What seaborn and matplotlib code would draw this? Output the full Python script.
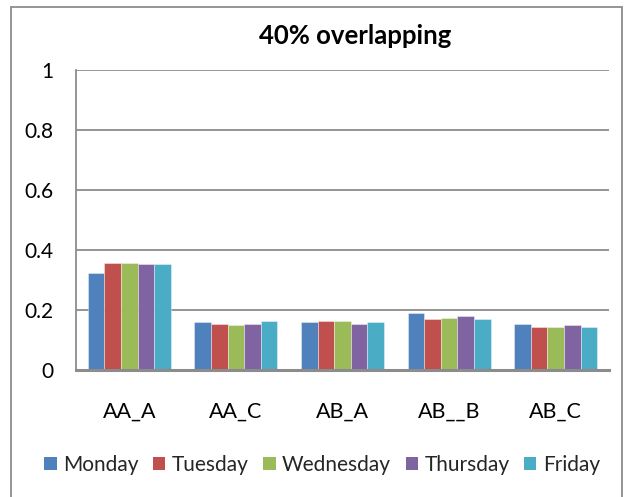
import matplotlib
matplotlib.use("Agg")
import matplotlib.pyplot as plt
from matplotlib.patches import Rectangle, Patch
import seaborn as sns
import pandas as pd

# Data
categories = ["AA_A", "AA_C", "AB_A", "AB__B", "AB_C"]
days = ["Monday", "Tuesday", "Wednesday", "Thursday", "Friday"]
monday = [0.325, 0.160, 0.160, 0.190, 0.155]
tuesday = [0.357, 0.155, 0.165, 0.170, 0.145]
wednesday = [0.357, 0.150, 0.165, 0.175, 0.145]
thursday = [0.352, 0.155, 0.155, 0.180, 0.150]
friday = [0.352, 0.165, 0.160, 0.170, 0.145]
y_ticks = [0, 0.2, 0.4, 0.6, 0.8, 1]
y_tick_labels = ["0", "0.2", "0.4", "0.6", "0.8", "1"]
title = "40% overlapping"

colors = ["#4F81BD", "#C0504D", "#9BBB59", "#8064A2", "#4BACC6"]

series = [monday, tuesday, wednesday, thursday, friday]
rows = []
for day, vals in zip(days, series):
    for cat, v in zip(categories, vals):
        rows.append({"category": cat, "day": day, "value": v})
df = pd.DataFrame(rows)

sns.set_theme(style="white")
plt.rcParams["font.family"] = ["Lato", "DejaVu Sans"]

fig = plt.figure(figsize=(6.25, 4.97), dpi=100)
ax = fig.add_axes([76 / 625, 1 - 370 / 497, (609 - 76) / 625, 300 / 497])

sns.barplot(data=df, x="category", y="value", hue="day", order=categories,
            hue_order=days, palette=colors, width=0.78, gap=0,
            edgecolor=(1, 1, 1, 0.45), linewidth=0.6, saturation=1,
            legend=False, ax=ax)

ax.set_ylim(0, 1)
ax.set_xlim(-0.5, len(categories) - 0.5)
ax.set_yticks(y_ticks)
ax.set_yticklabels(y_tick_labels, fontsize=15, color="black")
ax.set_xlabel("")
ax.set_ylabel("")
ax.tick_params(axis="y", length=0, pad=16)
ax.tick_params(axis="x", length=0, pad=23, labelsize=15.5, labelcolor="black")

ax.yaxis.grid(True, color="#8C8C8C", linewidth=1.3)
ax.set_axisbelow(True)
for side in ["top", "right"]:
    ax.spines[side].set_visible(False)
ax.spines["left"].set_color("#8C8C8C")
ax.spines["left"].set_linewidth(1.3)
ax.spines["bottom"].set_color("#8C8C8C")
ax.spines["bottom"].set_linewidth(2.2)

# Chart-area border
fig.patches.append(Rectangle((11 / 625, -0.02), (622 - 11) / 625, 1 - 7 / 497 + 0.02,
                             transform=fig.transFigure, fill=False,
                             edgecolor="#8C8C8C", linewidth=1.3))

fig.text(355 / 625, 1 - 36 / 497, title, ha="center", va="center",
         fontsize=18.5, fontweight="bold", color="black")

handles = [Patch(facecolor=c, edgecolor="none") for c in colors]
fig.legend(handles, days, loc="center", bbox_to_anchor=(322 / 625, 1 - 465 / 497),
           ncol=5, frameon=False, fontsize=15, handlelength=0.6, handleheight=0.6,
           handletextpad=0.3, columnspacing=0.7, borderaxespad=0)

fig.savefig("out.png", dpi=100)
